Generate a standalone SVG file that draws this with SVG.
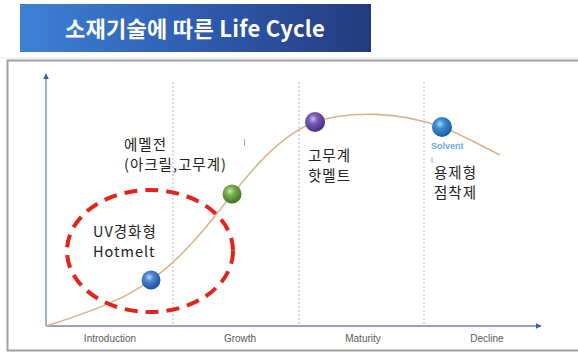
<svg xmlns="http://www.w3.org/2000/svg" width="578" height="352" viewBox="0 0 578 352">
<style>
.lbl{font-family:"Noto Sans CJK KR","Noto Sans",sans-serif;font-size:14.5px;letter-spacing:1px;fill:#222;}
.ax{font-family:"Liberation Sans",Arial,sans-serif;font-size:10px;fill:#5a5a5a;}
.grid{stroke:#b9c9da;stroke-width:1.2;stroke-dasharray:2 2;fill:none;}
.axis{stroke:#7186b4;stroke-width:1.3;fill:none;}
</style>
<defs>
<linearGradient id="tg" x1="0" y1="0" x2="1" y2="0">
<stop offset="0" stop-color="#3d82d6"/>
<stop offset="0.5" stop-color="#2f5cb0"/>
<stop offset="1" stop-color="#253a7e"/>
</linearGradient>
<radialGradient id="gBlue" cx="0.4" cy="0.35" r="0.65">
<stop offset="0" stop-color="#b8d4f4"/>
<stop offset="0.35" stop-color="#4f86d2"/>
<stop offset="1" stop-color="#1f4f9c"/>
</radialGradient>
<radialGradient id="gGreen" cx="0.4" cy="0.35" r="0.65">
<stop offset="0" stop-color="#cfe6b0"/>
<stop offset="0.35" stop-color="#7aae4c"/>
<stop offset="1" stop-color="#3f7226"/>
</radialGradient>
<radialGradient id="gPurple" cx="0.4" cy="0.35" r="0.65">
<stop offset="0" stop-color="#cdbcee"/>
<stop offset="0.35" stop-color="#7a5cb8"/>
<stop offset="1" stop-color="#46307e"/>
</radialGradient>
<radialGradient id="gCyan" cx="0.4" cy="0.35" r="0.65">
<stop offset="0" stop-color="#a8d8f8"/>
<stop offset="0.35" stop-color="#3a8ed6"/>
<stop offset="1" stop-color="#1c5a9e"/>
</radialGradient>
<marker id="ah" viewBox="0 0 10 10" refX="9" refY="5" markerWidth="6" markerHeight="6" orient="auto-start-reverse" markerUnits="userSpaceOnUse">
<path d="M0,0 L10,5 L0,10 z" fill="#3b5aa8"/>
</marker>
</defs>
<rect width="578" height="352" fill="#fff"/>
<g id="title">
<rect x="20" y="4" width="351" height="48" fill="url(#tg)"/>
<text x="195" y="37" text-anchor="middle" font-family="'Noto Sans CJK KR','Noto Sans',sans-serif" font-size="22" font-weight="bold" fill="#fff" letter-spacing="0.3">소재기술에 따른 Life Cycle</text>
</g>
<g id="frame">
<line x1="0" y1="58" x2="578" y2="58" stroke="#e6e6e6" stroke-width="1"/>
<path d="M578,60.5 H7.5 V350.5 H578" fill="none" stroke="#a0a0a0" stroke-width="2"/>
</g>
<g id="grid">
<line class="grid" x1="173" y1="82" x2="173" y2="326"/>
<line class="grid" x1="299" y1="82" x2="299" y2="326"/>
<line class="grid" x1="424" y1="82" x2="424" y2="326"/>
</g>
<g id="axes">
<line class="axis" x1="46" y1="326" x2="46" y2="74" marker-end="url(#ah)"/>
<line class="axis" x1="46" y1="326" x2="541" y2="326" marker-end="url(#ah)"/>
<text class="ax" x="110" y="342" text-anchor="middle">Introduction</text>
<text class="ax" x="240" y="342" text-anchor="middle">Growth</text>
<text class="ax" x="363" y="342" text-anchor="middle">Maturity</text>
<text class="ax" x="487" y="342" text-anchor="middle">Decline</text>
</g>
<g id="connectors">
<path d="M46,326 C110,306 150,290 190,245 C225,210 262,142 315,122 C350,110 400,112 442,127 C465,136 485,148 500,155" fill="none" stroke="#dcb48c" stroke-width="1.6"/>
<line x1="244.5" y1="139" x2="244.5" y2="146" stroke="#aaa" stroke-width="1"/>
<line x1="432" y1="157" x2="432" y2="163" stroke="#aaa" stroke-width="1"/>
</g>
<g id="highlight">
<ellipse cx="150" cy="251" rx="83" ry="61" fill="none" stroke="#e5231b" stroke-width="4" stroke-dasharray="13 8"/>
</g>
<g id="node-uv">
<circle cx="151" cy="280" r="9.5" fill="url(#gBlue)"/>
<text class="lbl" x="93" y="237">UV경화형</text>
<text class="lbl" x="93" y="257">Hotmelt</text>
</g>
<g id="node-emulsion">
<circle cx="232" cy="194" r="9.5" fill="url(#gGreen)"/>
<text class="lbl" x="124" y="150">에멜전</text>
<text class="lbl" x="124" y="170">(아크릴,고무계)</text>
</g>
<g id="node-rubber">
<circle cx="315" cy="122" r="10" fill="url(#gPurple)"/>
<text class="lbl" x="308" y="161">고무계</text>
<text class="lbl" x="308" y="181">핫멜트</text>
</g>
<g id="node-solvent">
<circle cx="442" cy="127" r="10" fill="url(#gCyan)"/>
<text x="431" y="149" font-family="'Liberation Sans',Arial,sans-serif" font-size="9" font-weight="bold" fill="#6aaee0">Solvent</text>
<text class="lbl" x="434" y="178">용제형</text>
<text class="lbl" x="434" y="198">점착제</text>
</g>
</svg>
